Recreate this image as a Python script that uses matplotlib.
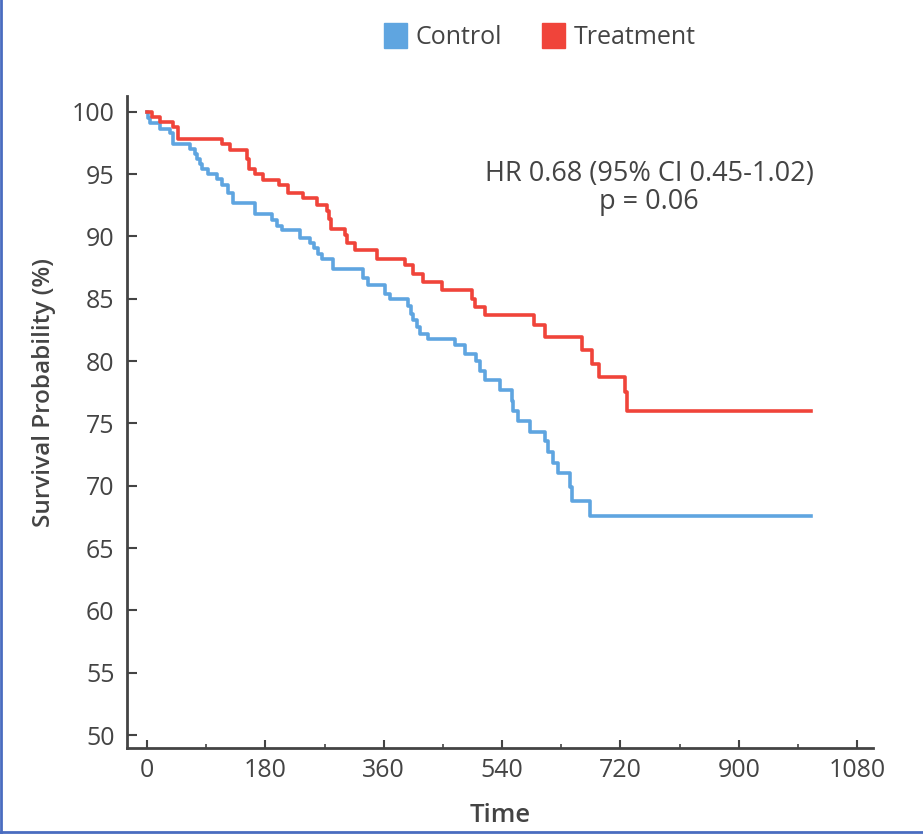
import matplotlib
matplotlib.use("Agg")
import matplotlib.pyplot as plt
from matplotlib.patches import Patch
from matplotlib.lines import Line2D

#Kaplan-Meier step data (time, survival %)
control_t = [0, 2, 5, 20, 35, 40, 65, 73, 76, 80, 84, 93, 106, 114, 123, 131, 164, 190, 198, 205,
             233, 248, 254, 260, 266, 283, 329, 336, 362, 370, 397, 401, 405, 410, 415, 427, 468, 484, 500, 506,
             514, 537, 555, 557, 564, 583, 605, 610, 618, 625, 643, 646, 674, 1010]
control_s = [100, 99.5, 99.1, 98.6, 98.3, 97.4, 97.0, 96.6, 96.2, 95.8, 95.4, 95.0, 94.6, 94.1, 93.5, 92.7, 91.8, 91.3, 90.8, 90.5,
             89.9, 89.5, 89.1, 88.6, 88.2, 87.4, 86.7, 86.1, 85.4, 85.0, 84.4, 83.8, 83.3, 82.7, 82.2, 81.8, 81.3, 80.6, 80.0, 79.2,
             78.5, 77.7, 76.8, 76.0, 75.2, 74.3, 73.6, 72.7, 71.8, 71.0, 69.9, 68.8, 67.6, 67.6]

treat_t = [0, 8, 20, 40, 47, 114, 126, 152, 155, 164, 176, 201, 214, 237, 259, 274, 277, 280, 301, 304,
           316, 350, 392, 405, 420, 449, 494, 499, 514, 588, 606, 662, 677, 687, 727, 730, 1010]
treat_s = [100, 99.6, 99.2, 98.8, 97.8, 97.4, 96.9, 96.2, 95.4, 95.0, 94.5, 94.1, 93.5, 93.1, 92.5, 92.0, 91.4, 90.6, 90.1, 89.5,
           88.9, 88.2, 87.7, 87.0, 86.3, 85.7, 85.0, 84.3, 83.7, 82.9, 81.9, 80.9, 79.8, 78.7, 77.5, 76.0, 76.0]

x_ticks = [0, 180, 360, 540, 720, 900, 1080]
y_ticks = [50, 55, 60, 65, 70, 75, 80, 85, 90, 95, 100]
labels = ["Control", "Treatment"]

blue = "#5fa5e0"
red = "#f0443a"
axis_col = "#444444"
text_col = "#444444"

plt.rcParams['font.family'] = ['Open Sans', 'DejaVu Sans']

fig = plt.figure(figsize=(9.23, 8.34), dpi=100)
ax = fig.add_axes([0.1376, 0.1031, 0.8082, 0.7818])

ax.step(control_t, control_s, where='post', color=blue, lw=2.6)
ax.step(treat_t, treat_s, where='post', color=red, lw=2.6)

ax.set_xlim(-30.4, 1104)
ax.set_ylim(48.96, 101.26)
ax.set_xticks(x_ticks)
ax.set_xticks(range(90, 1080, 180), minor=True)
ax.set_yticks(y_ticks)

for side in ['top', 'right']:
    ax.spines[side].set_visible(False)
for side in ['left', 'bottom']:
    ax.spines[side].set_color(axis_col)
    ax.spines[side].set_linewidth(2)

ax.tick_params(axis='both', which='major', direction='in', color=axis_col, width=1.5,
               labelsize=18, labelcolor=text_col)
ax.tick_params(axis='y', which='major', length=7, pad=9)
ax.tick_params(axis='x', which='major', length=6, pad=7)
ax.tick_params(axis='x', which='minor', direction='in', length=3, width=1.2, color=axis_col)

ax.set_ylabel("Survival Probability (%)", fontsize=17.5, fontweight='semibold', color=text_col)
ax.yaxis.set_label_coords(-0.095, 0.545)
ax.set_xlabel("Time", fontsize=18.5, fontweight='semibold', color=text_col)
ax.xaxis.set_label_coords(0.5, -0.084)

ax.text(0.70, 0.881, "HR 0.68 (95% CI 0.45-1.02)", transform=ax.transAxes, ha='center', va='center',
        fontsize=19.5, color=text_col)
ax.text(0.70, 0.838, "p = 0.06", transform=ax.transAxes, ha='center', va='center',
        fontsize=19.5, color=text_col)

handles = [Patch(facecolor=blue, edgecolor=blue), Patch(facecolor=red, edgecolor=red)]
fig.legend(handles, labels, loc='center', bbox_to_anchor=(0.585, 0.956), ncol=2, frameon=False,
           fontsize=18, handlelength=0.9, handleheight=1.15, handletextpad=0.35, columnspacing=1.6,
           labelcolor=text_col)

#thin frame lines at left and bottom edge of the picture
fig.add_artist(Line2D([0.001, 0.001], [0, 1], color="#4a6cc0", lw=2, transform=fig.transFigure))
fig.add_artist(Line2D([0, 1], [0.002, 0.002], color="#4a6cc0", lw=2, transform=fig.transFigure))

fig.savefig("out.png", dpi=100)
